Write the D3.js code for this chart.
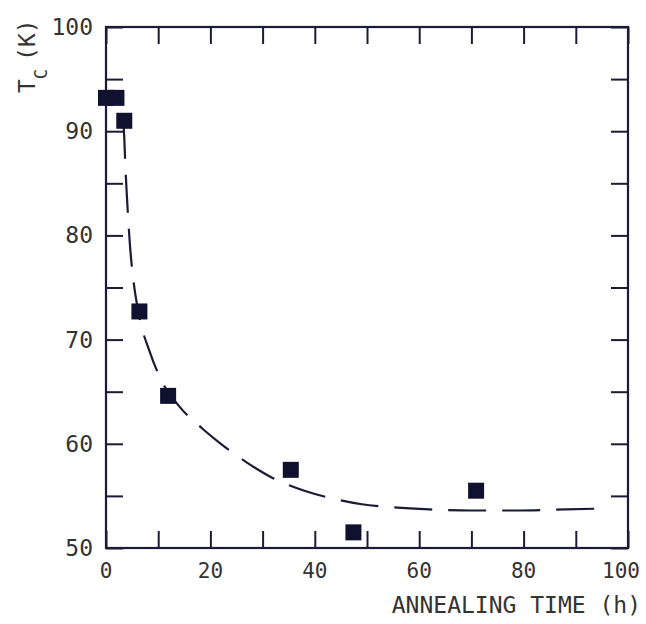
<!DOCTYPE html>
<html>
<head>
<meta charset="utf-8">
<script src="https://cdn.jsdelivr.net/npm/d3@7"></script>
<style>
  body { margin: 0; background: #fff; }
  svg text { font-family: "DejaVu Sans Mono", "Liberation Mono", monospace; fill: #333; }
</style>
</head>
<body>
<div id="chart"></div>
<script>
// measured points (annealing time in h, Tc in K)
const times = [0, 2, 3.5, 6.4, 11.9, 35.4, 47.4, 70.9];
const tc = [93.2, 93.2, 91.0, 72.7, 64.6, 57.5, 51.5, 55.5];

// dashed guide curve
const curveT = [3.3, 3.5, 3.7, 4.0, 4.6, 5.3, 6.3, 8.4, 10.7, 14.2, 18.6, 22.0, 27.0, 32.0, 38.0, 43.0, 49.0, 55.0, 62.0, 70.0, 79.0, 88.0, 96.0];
const curveTc = [91.0, 89.4, 86.8, 83.8, 79.0, 75.5, 72.4, 68.8, 66.0, 63.5, 61.4, 60.0, 58.2, 56.7, 55.5, 54.8, 54.2, 53.9, 53.7, 53.6, 53.6, 53.7, 53.8];

const xTicks = [0, 20, 40, 60, 80, 100];
const yTicks = [50, 60, 70, 80, 90, 100];

const width = 646, height = 624;
const margin = {left: 106, top: 27, right: 18, bottom: 76};
const ink = "#1b1b38";

const svg = d3.select("#chart").append("svg")
  .attr("width", width)
  .attr("height", height);

const x = d3.scaleLinear().domain([0, 100]).range([margin.left, width - margin.right]);
const y = d3.scaleLinear().domain([50, 100]).range([height - margin.bottom, margin.top]);

// inner ticks on all four sides
const tl = 17;
svg.append("g")
  .attr("transform", `translate(0,${y(50)})`)
  .call(d3.axisBottom(x).tickValues(d3.range(0, 101, 10)).tickSize(-tl).tickFormat(""));
svg.append("g")
  .attr("transform", `translate(0,${y(100)})`)
  .call(d3.axisTop(x).tickValues(d3.range(0, 101, 10)).tickSize(-tl).tickFormat(""));
svg.append("g")
  .attr("transform", `translate(${x(0)},0)`)
  .call(d3.axisLeft(y).tickValues(d3.range(50, 101, 5)).tickSize(-tl).tickFormat(""));
svg.append("g")
  .attr("transform", `translate(${x(100)},0)`)
  .call(d3.axisRight(y).tickValues(d3.range(50, 101, 5)).tickSize(-tl).tickFormat(""));

svg.selectAll(".domain").remove();
svg.selectAll(".tick line").attr("stroke", ink).attr("stroke-width", 2);

// frame
svg.append("rect")
  .attr("x", x(0)).attr("y", y(100))
  .attr("width", x(100) - x(0)).attr("height", y(50) - y(100))
  .attr("fill", "none").attr("stroke", ink).attr("stroke-width", 2.2);

// tick labels (last one pulled in so it stays on the page)
svg.append("g").selectAll("text")
  .data(xTicks).join("text")
  .attr("x", d => Math.min(x(d), width - 25))
  .attr("y", y(50) + 30)
  .attr("text-anchor", "middle")
  .attr("font-size", 21)
  .text(d => d);

svg.append("g").selectAll("text")
  .data(yTicks).join("text")
  .attr("x", x(0) - 13)
  .attr("y", d => y(d) + 8)
  .attr("text-anchor", "end")
  .attr("font-size", 23)
  .text(d => d);

// axis titles
svg.append("text")
  .attr("x", width - 5)
  .attr("y", 613)
  .attr("text-anchor", "end")
  .attr("font-size", 23)
  .text("ANNEALING TIME (h)");

const yt = svg.append("text")
  .attr("transform", "translate(35,93) rotate(-90)")
  .attr("font-size", 23);
yt.append("tspan").text("T");
yt.append("tspan").attr("font-size", 17).attr("dy", 12).text("C");
yt.append("tspan").attr("dy", -12).attr("dx", 8).text("(K)");

// dashed curve
const line = d3.line()
  .x((d, i) => x(curveT[i]))
  .y(d => y(d))
  .curve(d3.curveMonotoneX);

svg.append("path")
  .datum(curveTc)
  .attr("d", line)
  .attr("fill", "none")
  .attr("stroke", ink)
  .attr("stroke-width", 2.2)
  .attr("stroke-dasharray", "38,16");

// square markers
const s = 16;
svg.append("g").selectAll("rect")
  .data(times).join("rect")
  .attr("x", d => x(d) - s / 2)
  .attr("y", (d, i) => y(tc[i]) - s / 2)
  .attr("width", s)
  .attr("height", s)
  .attr("fill", "#10112e");
</script>
</body>
</html>
